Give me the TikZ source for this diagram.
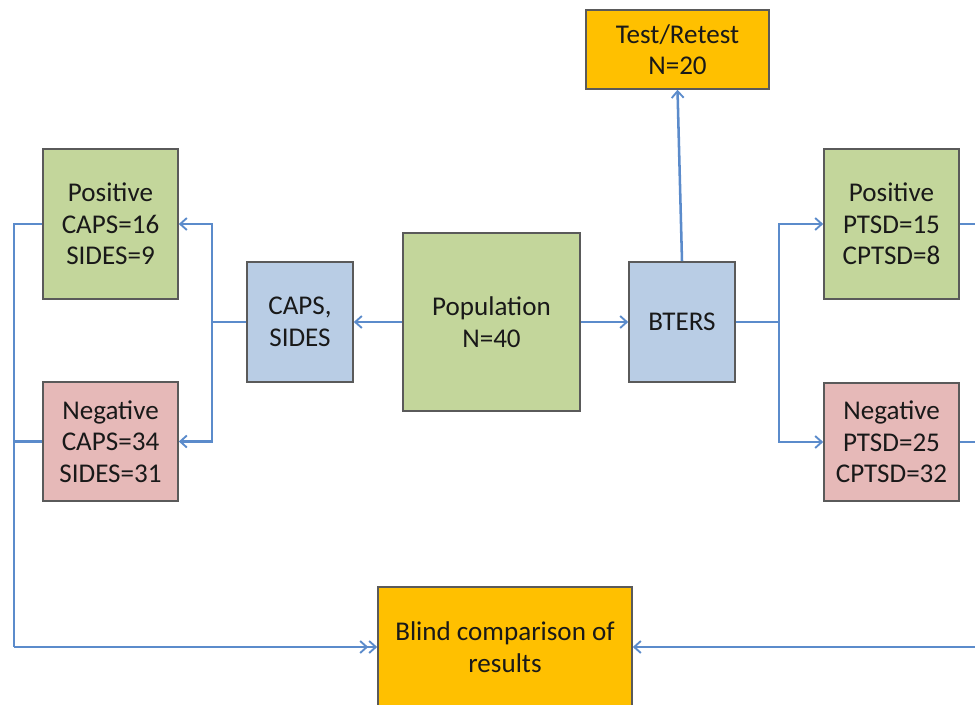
\documentclass[tikz,border=0pt]{standalone}
\usepackage{fontspec}
\setmainfont{Carlito}
\usetikzlibrary{arrows.meta}
\definecolor{boxgreen}{HTML}{C3D69B}
\definecolor{boxpink}{HTML}{E6B9B8}
\definecolor{boxblue}{HTML}{B9CDE5}
\definecolor{boxorange}{HTML}{FFC000}
\definecolor{edgegray}{HTML}{5A5A5A}
\definecolor{linkblue}{HTML}{5B8BCB}
\tikzset{
  box/.style={draw=edgegray, line width=1.2pt, align=center, inner sep=0pt,
    font=\fontsize{20.3}{23.6}\selectfont, text=black!90},
  conn/.style={draw=linkblue, line width=1.9pt},
  arr/.style={conn, -{Straight Barb[length=5pt,width=9pt,line width=1.4pt]}},
  arrtwo/.style={conn, -{Straight Barb[length=5pt,width=9pt,line width=1.4pt]Straight Barb[length=5pt,width=9pt,line width=1.4pt]}},
}
\begin{document}
\begin{tikzpicture}[x=0.75pt, y=-0.75pt]
\useasboundingbox (0,0) rectangle (975,704);
\clip (0,0) rectangle (975,704);

% boxes
\node[box, fill=boxorange, minimum width=137.25pt, minimum height=59.25pt] (test) at (677.5,49.5) {Test/Retest\\N=20};
\node[box, fill=boxgreen, minimum width=101.25pt, minimum height=112.5pt] (posc) at (110.5,224) {Positive\\CAPS=16\\SIDES=9};
\node[box, fill=boxpink, minimum width=101.25pt, minimum height=89.25pt] (negc) at (110.5,441.5) {Negative\\CAPS=34\\SIDES=31};
\node[box, fill=boxblue, minimum width=79.5pt, minimum height=90pt] (cs) at (300,322) {CAPS,\\SIDES};
\node[box, fill=boxgreen, minimum width=132.75pt, minimum height=133.5pt] (pop) at (491.5,322) {Population\\N=40};
\node[box, fill=boxblue, minimum width=79.5pt, minimum height=90pt] (bt) at (682,322) {BTERS};
\node[box, fill=boxgreen, minimum width=101.25pt, minimum height=112.5pt] (posp) at (891.5,224) {Positive\\PTSD=15\\CPTSD=8};
\node[box, fill=boxpink, minimum width=101.25pt, minimum height=88.5pt] (negp) at (891.5,442) {Negative\\PTSD=25\\CPTSD=32};
\node[box, fill=boxorange, minimum width=190.5pt, minimum height=90pt] (blind) at (505,647) {Blind comparison of\\results};

% junction points
\coordinate (lj) at (212,322);
\coordinate (rj) at (779,322);
\coordinate (lbot) at (14,647);
\coordinate (rbot) at (995,647);

% population to the two instruments
\draw[arr] (pop.west) -- (cs.east);
\draw[arr] (pop.east) -- (bt.west);
\draw[arr] (bt.north) -- (test.south);

% CAPS, SIDES branches
\draw[conn] (cs.west) -- (lj);
\draw[arr] (lj) |- (posc.east);
\draw[arr] (lj) |- (negc.east);

% BTERS branches
\draw[conn] (bt.east) -- (rj);
\draw[arr] (rj) |- (posp.west);
\draw[arr] (rj) |- (negp.west);

% results collected for comparison
\draw[conn] (posc.west) -| (lbot);
\draw[conn] (negc.west) -- (negc.west -| lbot);
\draw[arrtwo] (lbot) -- (blind.west);
\draw[conn] (posp.east) -| (rbot);
\draw[conn] (negp.east) -- (negp.east -| rbot);
\draw[arr] (rbot) -- (blind.east);
\end{tikzpicture}
\end{document}
